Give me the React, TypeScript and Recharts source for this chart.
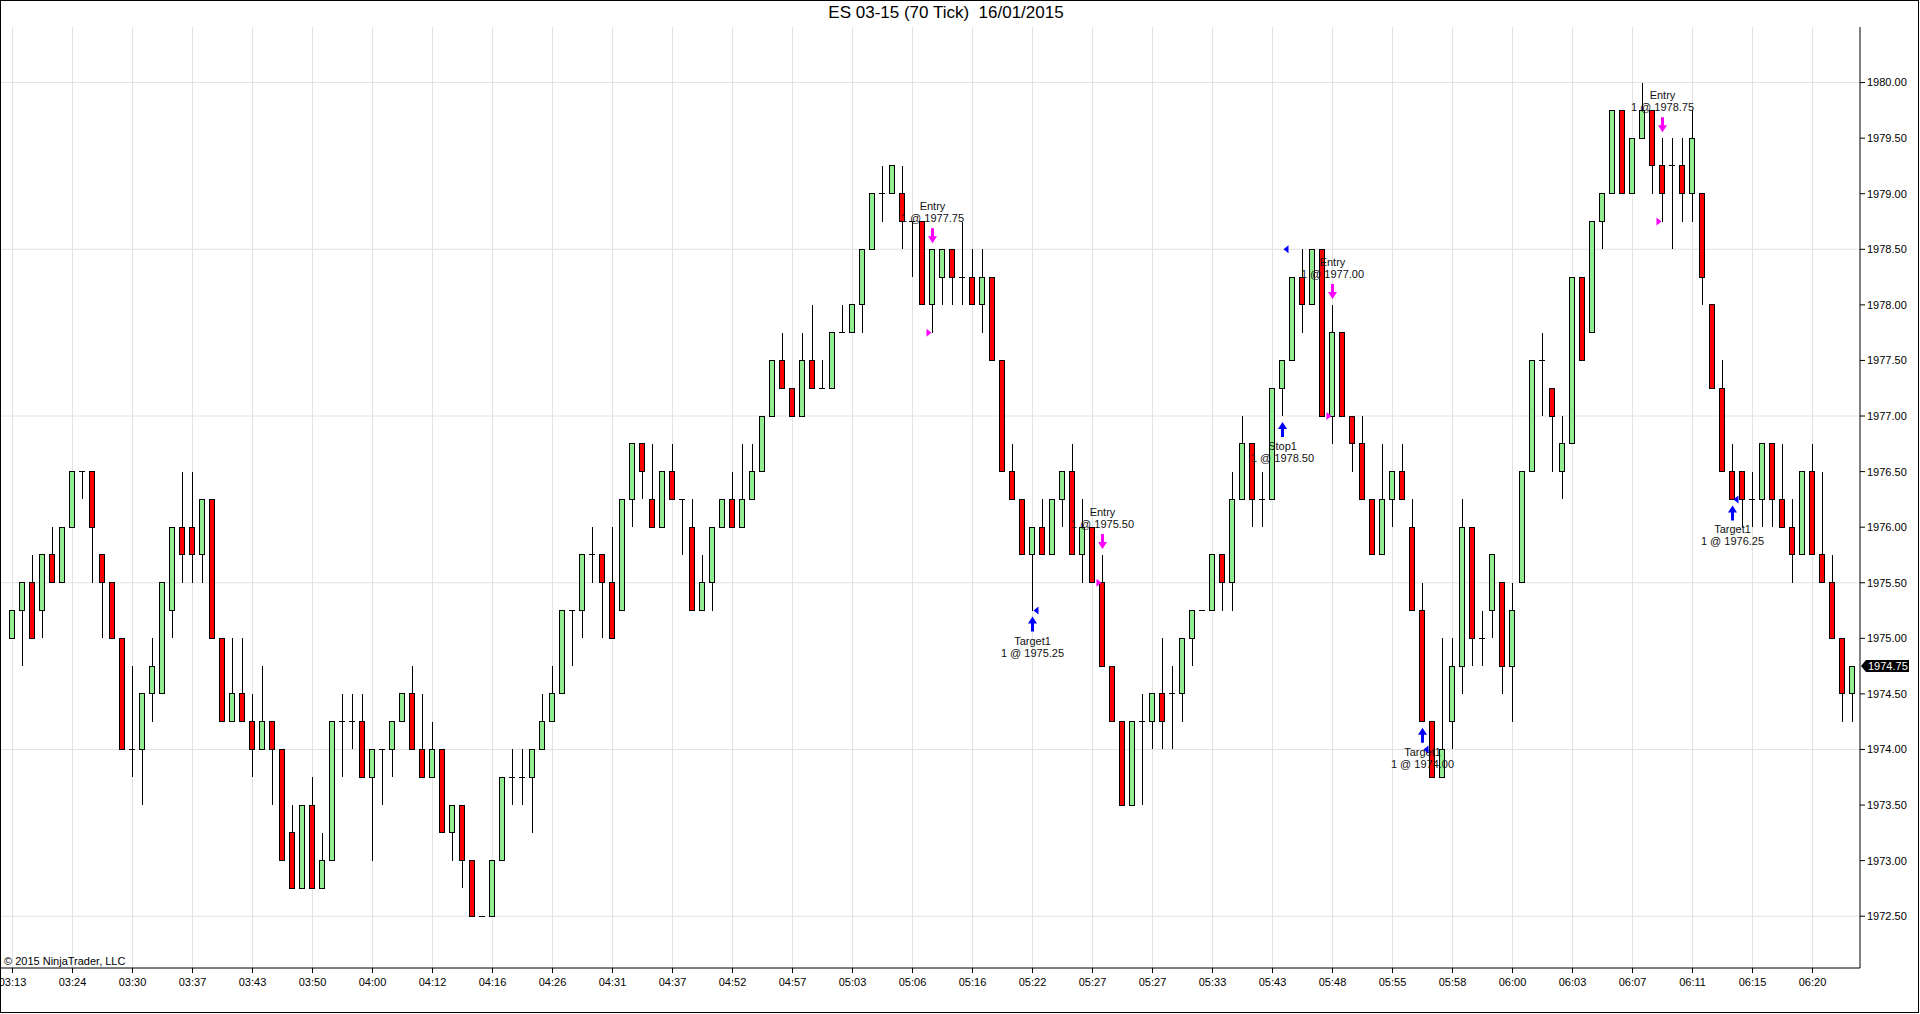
import React from 'react';
import { ComposedChart, Bar, XAxis, YAxis, CartesianGrid, ReferenceDot, ReferenceLine } from 'recharts';

// ES 03-15, 70 tick bars
const opens = [
  1975.00, 1975.25, 1975.50, 1975.25, 1975.75, 1975.50, 1976.00, 1976.50, 1976.50, 1975.75,
  1975.50, 1975.00, 1974.00, 1974.00, 1974.50, 1974.50, 1975.25, 1976.00, 1976.00, 1975.75,
  1976.25, 1975.00, 1974.25, 1974.50, 1974.25, 1974.00, 1974.25, 1974.00, 1973.25, 1972.75,
  1973.50, 1972.75, 1973.00, 1974.25, 1974.25, 1974.25, 1973.75, 1974.00, 1974.00, 1974.25,
  1974.50, 1974.00, 1973.75, 1974.00, 1973.25, 1973.50, 1973.00, 1972.50, 1972.50, 1973.00,
  1973.75, 1973.75, 1973.75, 1974.00, 1974.25, 1974.50, 1975.25, 1975.25, 1975.75, 1975.75,
  1975.50, 1975.25, 1976.25, 1976.75, 1976.25, 1976.00, 1976.50, 1976.25, 1976.00, 1975.25,
  1975.50, 1976.00, 1976.25, 1976.00, 1976.25, 1976.50, 1977.00, 1977.50, 1977.25, 1977.00,
  1977.50, 1977.25, 1977.25, 1977.75, 1977.75, 1978.00, 1978.50, 1979.00, 1979.00, 1979.00,
  1978.75, 1978.75, 1978.00, 1978.25, 1978.50, 1978.25, 1978.25, 1978.00, 1978.25, 1977.50,
  1976.50, 1976.25, 1975.75, 1976.00, 1975.75, 1976.25, 1976.50, 1975.75, 1976.00, 1975.50,
  1974.75, 1974.25, 1973.50, 1974.25, 1974.25, 1974.50, 1974.50, 1974.50, 1975.00, 1975.25,
  1975.25, 1975.75, 1975.50, 1976.25, 1976.75, 1976.25, 1976.25, 1977.25, 1977.50, 1978.25,
  1978.00, 1978.50, 1977.00, 1977.75, 1977.00, 1976.75, 1976.25, 1975.75, 1976.25, 1976.50,
  1976.00, 1975.25, 1974.25, 1973.75, 1974.25, 1974.75, 1976.00, 1975.00, 1975.25, 1975.50,
  1974.75, 1975.50, 1976.50, 1977.50, 1977.25, 1976.50, 1976.75, 1978.25, 1977.75, 1978.75,
  1979.00, 1979.75, 1979.00, 1979.50, 1979.75, 1979.25, 1979.25, 1979.25, 1979.00, 1979.00,
  1978.00, 1977.25, 1976.50, 1976.50, 1976.25, 1976.25, 1976.75, 1976.25, 1976.00, 1975.75,
  1976.50, 1975.75, 1975.50, 1975.00, 1974.50,
];

const highs = [
  1975.25, 1975.50, 1975.75, 1975.75, 1976.00, 1976.00, 1976.50, 1976.50, 1976.50, 1975.75,
  1975.50, 1975.00, 1974.75, 1974.50, 1975.00, 1975.50, 1976.00, 1976.50, 1976.50, 1976.25,
  1976.25, 1975.00, 1975.00, 1975.00, 1974.50, 1974.75, 1974.25, 1974.00, 1973.50, 1973.50,
  1973.75, 1973.25, 1974.25, 1974.50, 1974.50, 1974.50, 1974.00, 1974.00, 1974.25, 1974.50,
  1974.75, 1974.50, 1974.25, 1974.00, 1973.50, 1973.50, 1973.00, 1972.50, 1973.00, 1973.75,
  1974.00, 1974.00, 1974.00, 1974.50, 1974.75, 1975.25, 1975.25, 1975.75, 1976.00, 1975.75,
  1976.00, 1976.25, 1976.75, 1976.75, 1976.75, 1976.50, 1976.75, 1976.25, 1976.25, 1975.75,
  1976.00, 1976.25, 1976.50, 1976.75, 1976.75, 1977.00, 1977.50, 1977.75, 1977.25, 1977.75,
  1978.00, 1977.50, 1977.75, 1978.00, 1978.00, 1978.50, 1979.00, 1979.25, 1979.25, 1979.25,
  1978.75, 1978.75, 1978.50, 1978.50, 1978.50, 1978.75, 1978.50, 1978.50, 1978.25, 1977.50,
  1976.75, 1976.25, 1976.00, 1976.25, 1976.25, 1976.50, 1976.75, 1976.25, 1976.00, 1975.75,
  1974.75, 1974.25, 1974.25, 1974.50, 1974.50, 1975.00, 1974.75, 1975.00, 1975.25, 1975.25,
  1975.75, 1975.75, 1976.50, 1977.00, 1976.75, 1976.50, 1977.25, 1977.50, 1978.25, 1978.50,
  1978.50, 1978.50, 1978.00, 1977.75, 1977.00, 1977.00, 1976.25, 1976.75, 1976.50, 1976.75,
  1976.25, 1975.50, 1974.25, 1975.00, 1975.00, 1976.25, 1976.00, 1975.25, 1975.75, 1975.50,
  1975.50, 1976.50, 1977.50, 1977.75, 1977.25, 1977.00, 1978.25, 1978.25, 1978.75, 1979.00,
  1979.75, 1979.75, 1979.50, 1980.00, 1979.75, 1979.50, 1979.50, 1979.50, 1979.75, 1979.00,
  1978.00, 1977.50, 1976.75, 1976.50, 1976.50, 1976.75, 1976.75, 1976.75, 1976.25, 1976.50,
  1976.75, 1976.50, 1975.75, 1975.00, 1974.75,
];

const lows = [
  1975.00, 1974.75, 1975.00, 1975.00, 1975.50, 1975.50, 1976.00, 1976.25, 1975.50, 1975.00,
  1975.00, 1974.00, 1973.75, 1973.50, 1974.25, 1974.50, 1975.00, 1975.50, 1975.50, 1975.50,
  1975.00, 1974.25, 1974.25, 1974.25, 1973.75, 1974.00, 1973.50, 1973.00, 1972.75, 1972.75,
  1972.75, 1972.75, 1973.00, 1973.75, 1974.00, 1973.75, 1973.00, 1973.50, 1973.75, 1974.25,
  1974.00, 1973.75, 1973.75, 1973.25, 1973.00, 1972.75, 1972.50, 1972.50, 1972.50, 1973.00,
  1973.50, 1973.50, 1973.25, 1974.00, 1974.25, 1974.50, 1974.75, 1975.00, 1975.50, 1975.00,
  1975.00, 1975.25, 1976.00, 1976.25, 1976.00, 1976.00, 1976.25, 1975.75, 1975.25, 1975.25,
  1975.25, 1976.00, 1976.00, 1976.00, 1976.25, 1976.50, 1977.00, 1977.25, 1977.00, 1977.00,
  1977.25, 1977.25, 1977.25, 1977.75, 1977.75, 1977.75, 1978.50, 1978.75, 1979.00, 1978.50,
  1978.25, 1978.00, 1977.75, 1978.00, 1978.00, 1978.00, 1978.00, 1977.75, 1977.50, 1976.50,
  1976.25, 1975.75, 1975.25, 1975.75, 1975.75, 1976.00, 1975.75, 1975.50, 1975.50, 1974.75,
  1974.25, 1973.50, 1973.50, 1973.50, 1974.00, 1974.00, 1974.00, 1974.25, 1974.75, 1975.25,
  1975.25, 1975.25, 1975.25, 1976.25, 1976.00, 1976.00, 1976.25, 1977.00, 1977.50, 1977.75,
  1978.00, 1977.00, 1976.75, 1977.00, 1976.50, 1976.25, 1975.75, 1975.75, 1976.00, 1976.25,
  1975.25, 1974.25, 1973.75, 1973.75, 1974.00, 1974.50, 1974.75, 1974.75, 1975.00, 1974.50,
  1974.25, 1975.50, 1976.50, 1977.00, 1976.50, 1976.25, 1976.75, 1977.50, 1977.75, 1978.50,
  1979.00, 1979.00, 1979.00, 1979.50, 1979.00, 1978.75, 1978.50, 1978.75, 1978.75, 1978.00,
  1977.25, 1976.50, 1976.25, 1976.00, 1976.00, 1976.00, 1976.00, 1976.00, 1975.50, 1975.75,
  1975.75, 1975.50, 1975.00, 1974.25, 1974.25,
];

const closes = [
  1975.25, 1975.50, 1975.00, 1975.75, 1975.50, 1976.00, 1976.50, 1976.50, 1976.00, 1975.50,
  1975.00, 1974.00, 1974.00, 1974.50, 1974.75, 1975.50, 1976.00, 1975.75, 1975.75, 1976.25,
  1975.00, 1974.25, 1974.50, 1974.25, 1974.00, 1974.25, 1974.00, 1973.00, 1972.75, 1973.50,
  1972.75, 1973.00, 1974.25, 1974.25, 1974.25, 1973.75, 1974.00, 1974.00, 1974.25, 1974.50,
  1974.00, 1973.75, 1974.00, 1973.25, 1973.50, 1973.00, 1972.50, 1972.50, 1973.00, 1973.75,
  1973.75, 1973.75, 1974.00, 1974.25, 1974.50, 1975.25, 1975.25, 1975.75, 1975.75, 1975.50,
  1975.00, 1976.25, 1976.75, 1976.50, 1976.00, 1976.50, 1976.25, 1976.25, 1975.25, 1975.50,
  1976.00, 1976.25, 1976.00, 1976.25, 1976.50, 1977.00, 1977.50, 1977.25, 1977.00, 1977.50,
  1977.25, 1977.25, 1977.75, 1977.75, 1978.00, 1978.50, 1979.00, 1979.00, 1979.25, 1978.75,
  1978.75, 1978.00, 1978.50, 1978.50, 1978.25, 1978.25, 1978.00, 1978.25, 1977.50, 1976.50,
  1976.25, 1975.75, 1976.00, 1975.75, 1976.25, 1976.50, 1975.75, 1976.00, 1975.50, 1974.75,
  1974.25, 1973.50, 1974.25, 1974.25, 1974.50, 1974.25, 1974.50, 1975.00, 1975.25, 1975.25,
  1975.75, 1975.50, 1976.25, 1976.75, 1976.25, 1976.25, 1977.25, 1977.50, 1978.25, 1978.00,
  1978.50, 1977.00, 1977.75, 1977.00, 1976.75, 1976.25, 1975.75, 1976.25, 1976.50, 1976.25,
  1975.25, 1974.25, 1973.75, 1974.00, 1974.75, 1976.00, 1975.00, 1975.00, 1975.75, 1974.75,
  1975.25, 1976.50, 1977.50, 1977.50, 1977.00, 1976.75, 1978.25, 1977.50, 1978.75, 1979.00,
  1979.75, 1979.00, 1979.50, 1979.75, 1979.25, 1979.00, 1979.25, 1979.00, 1979.50, 1978.25,
  1977.25, 1976.50, 1976.25, 1976.25, 1976.25, 1976.75, 1976.25, 1976.00, 1975.75, 1976.50,
  1975.75, 1975.50, 1975.00, 1974.50, 1974.75,
];

// one time label every 6 bars
const timeLabels = [
  '03:13', '03:24', '03:30', '03:37', '03:43', '03:50', '04:00', '04:12', '04:16', '04:26', '04:31',
  '04:37', '04:52', '04:57', '05:03', '05:06', '05:16', '05:22', '05:27', '05:27', '05:33', '05:43',
  '05:48', '05:55', '05:58', '06:00', '06:03', '06:07', '06:11', '06:15', '06:20',
];

const priceTicks = [
  1972.5, 1973, 1973.5, 1974, 1974.5, 1975, 1975.5, 1976, 1976.5, 1977, 1977.5, 1978, 1978.5, 1979, 1979.5, 1980,
];
const gridPrices = [1972.5, 1974, 1975.5, 1977, 1978.5, 1980];

// executions
const entryBars = [92, 109, 132, 165];
const entryPrices = [1977.75, 1975.5, 1977.0, 1978.75];
const exitBars = [102, 127, 141, 172];
const exitNames = ['Target1', 'Stop1', 'Target1', 'Target1'];
const exitPrices = [1975.25, 1978.5, 1974.0, 1976.25];

const lastPrice = closes[closes.length - 1];

const data = opens.map((open, i) => ({
  idx: i,
  open,
  high: highs[i],
  low: lows[i],
  close: closes[i],
  range: [lows[i], highs[i]],
}));
const tickIdx = timeLabels.map((_, k) => k * 6);

const UP = '#90EE90';
const DOWN = '#FF0000';
const TXT = '#111';
const FONT = '"Liberation Sans", Arial, sans-serif';

const Candle = (props: any) => {
  const { x, y, width, height, payload } = props;
  if (x == null || y == null || !payload) return null;
  const cx = x + width / 2;
  const yHi = Math.min(y, y + (height || 0));
  const yLo = Math.max(y, y + (height || 0));
  const { open, close, high, low } = payload;
  const span = high - low;
  const py = (p: number) => (span > 0 ? yHi + ((high - p) / span) * (yLo - yHi) : yHi);
  const top = py(Math.max(open, close));
  const bottom = py(Math.min(open, close));
  return (
    <g shapeRendering="crispEdges">
      {span > 0 && <line x1={cx} x2={cx} y1={yHi} y2={yLo} stroke="#000" strokeWidth={1} />}
      {open === close ? (
        <line x1={cx - 3.5} x2={cx + 2.5} y1={top} y2={top} stroke="#000" strokeWidth={1} />
      ) : (
        <rect
          x={cx - 3}
          y={top}
          width={5}
          height={Math.max(bottom - top, 1)}
          fill={close > open ? UP : DOWN}
          stroke="#000"
          strokeWidth={1}
        />
      )}
    </g>
  );
};

const label2 = (price: number) => `1 @ ${price.toFixed(2)}`;

// arrow above the bar high, text above it
const entryMark = (price: number) => (props: any) => {
  const { cx, cy } = props;
  const t = cy - 21;
  return (
    <g>
      <text x={cx} y={cy - 43} textAnchor="middle" dominantBaseline="central" fontSize={11} fill={TXT}>
        Entry
      </text>
      <text x={cx} y={cy - 31} textAnchor="middle" dominantBaseline="central" fontSize={11} fill={TXT}>
        {label2(price)}
      </text>
      <path
        d={`M${cx - 1.5},${t} L${cx + 1.5},${t} L${cx + 1.5},${t + 8} L${cx + 4.5},${t + 8} L${cx},${t + 15} L${cx - 4.5},${t + 8} L${cx - 1.5},${t + 8} Z`}
        fill="#FF00FF"
      />
    </g>
  );
};

const fillRight = (props: any) => {
  const { cx, cy } = props;
  return <path d={`M${cx - 6},${cy - 4} L${cx - 1},${cy} L${cx - 6},${cy + 4} Z`} fill="#FF00FF" />;
};

const fillLeft = (props: any) => {
  const { cx, cy } = props;
  return <path d={`M${cx + 6},${cy - 4} L${cx + 1},${cy} L${cx + 6},${cy + 4} Z`} fill="#0000FF" />;
};

// arrow below the bar low, text below it
const exitMark = (name: string, price: number) => (props: any) => {
  const { cx, cy } = props;
  const t = cy + 6;
  return (
    <g>
      <path
        d={`M${cx},${t} L${cx + 4.5},${t + 7} L${cx + 1.5},${t + 7} L${cx + 1.5},${t + 15} L${cx - 1.5},${t + 15} L${cx - 1.5},${t + 7} L${cx - 4.5},${t + 7} Z`}
        fill="#0000FF"
      />
      <text x={cx} y={cy + 30} textAnchor="middle" dominantBaseline="central" fontSize={11} fill={TXT}>
        {name}
      </text>
      <text x={cx} y={cy + 42} textAnchor="middle" dominantBaseline="central" fontSize={11} fill={TXT}>
        {label2(price)}
      </text>
    </g>
  );
};

const renderPriceTag = (props: any) => {
  const vb = props.viewBox || {};
  const x = (vb.x || 0) + (vb.width || 0) + 1;
  const y = vb.y || 0;
  return (
    <g>
      <path d={`M${x},${y} L${x + 5},${y - 6} L${x + 48},${y - 6} L${x + 48},${y + 6} L${x + 5},${y + 6} Z`} fill="#000" />
      <text x={x + 7} y={y} dominantBaseline="central" fontSize={11} fill="#fff">
        {lastPrice.toFixed(2)}
      </text>
    </g>
  );
};

const App = () => {
  return (
    <div
      style={{
        position: 'absolute',
        left: 0,
        top: 0,
        width: 1920,
        height: 1014,
        background: '#fff',
        fontFamily: FONT,
        overflow: 'hidden',
      }}
    >
      <div
        style={{
          position: 'absolute',
          left: 0,
          top: 3,
          width: 1892,
          textAlign: 'center',
          fontSize: 17,
          lineHeight: '20px',
          whiteSpace: 'pre',
          color: '#000',
        }}
      >
        ES 03-15 (70 Tick)  16/01/2015
      </div>
      <ComposedChart width={1920} height={1014} data={data} margin={{ top: 27, right: 0, bottom: 0, left: 0 }}>
        <CartesianGrid stroke="#e2e2e2" horizontalValues={gridPrices} verticalValues={tickIdx} />
        <XAxis
          xAxisId="top"
          orientation="top"
          dataKey="idx"
          height={0}
          tick={false}
          tickLine={false}
          axisLine={{ stroke: '#000' }}
        />
        <XAxis
          dataKey="idx"
          type="category"
          ticks={tickIdx}
          interval={0}
          tickFormatter={(v: number) => timeLabels[v / 6]}
          padding={{ left: 7.5, right: 2.5 }}
          height={46}
          tickSize={5}
          tickMargin={5}
          axisLine={{ stroke: '#000' }}
          tickLine={{ stroke: '#000' }}
          tick={{ fontSize: 11, fill: '#000' }}
        />
        <YAxis
          orientation="right"
          type="number"
          domain={[1972.034, 1980.5]}
          allowDataOverflow
          ticks={priceTicks}
          interval={0}
          width={60}
          tickSize={5}
          tickMargin={2}
          tickFormatter={(v: number) => v.toFixed(2)}
          axisLine={{ stroke: '#000' }}
          tickLine={{ stroke: '#000' }}
          tick={{ fontSize: 11, fill: '#000' }}
        />
        <Bar dataKey="range" barSize={6} shape={Candle} isAnimationActive={false} />
        {entryBars.map((b, k) => (
          <ReferenceDot key={`e${k}`} x={b} y={highs[b]} r={0} shape={entryMark(entryPrices[k])} />
        ))}
        {entryBars.map((b, k) => (
          <ReferenceDot key={`ef${k}`} x={b} y={entryPrices[k]} r={0} shape={fillRight} />
        ))}
        {exitBars.map((b, k) => (
          <ReferenceDot key={`x${k}`} x={b} y={lows[b]} r={0} shape={exitMark(exitNames[k], exitPrices[k])} />
        ))}
        {exitBars.map((b, k) => (
          <ReferenceDot key={`xf${k}`} x={b} y={exitPrices[k]} r={0} shape={fillLeft} />
        ))}
        <ReferenceLine y={lastPrice} stroke="none" label={renderPriceTag} />
      </ComposedChart>
      <div
        style={{
          position: 'absolute',
          left: 4,
          top: 954,
          fontSize: 11,
          lineHeight: '14px',
          color: '#000',
        }}
      >
        © 2015 NinjaTrader, LLC
      </div>
      <div
        style={{
          position: 'absolute',
          left: 0,
          top: 0,
          width: 1919,
          height: 1013,
          boxSizing: 'border-box',
          border: '1px solid #000',
          pointerEvents: 'none',
        }}
      />
    </div>
  );
};

export default App;
